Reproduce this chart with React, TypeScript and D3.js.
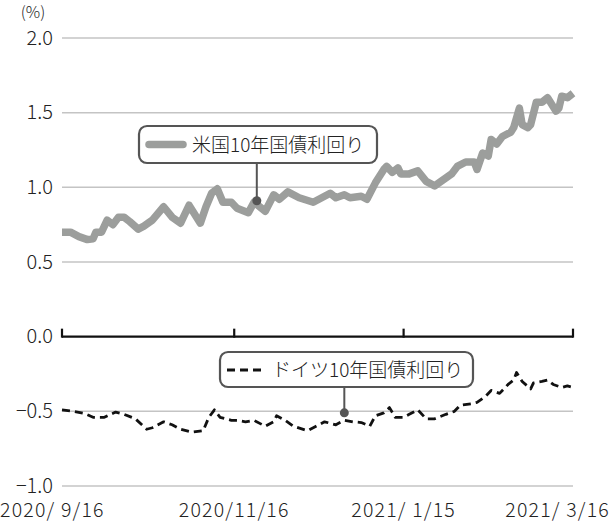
import React from 'react';
import * as d3 from 'd3';

// 米国・ドイツ 10年国債利回り (%), 2020/9/16 - 2021/3/16
const usDates = [
  '2020-09-16', '2020-09-19', '2020-09-22', '2020-09-25', '2020-09-27', '2020-09-28', '2020-09-30',
  '2020-10-02', '2020-10-04', '2020-10-06', '2020-10-08', '2020-10-10', '2020-10-13', '2020-10-15',
  '2020-10-18', '2020-10-22', '2020-10-25', '2020-10-28', '2020-10-31', '2020-11-04', '2020-11-06',
  '2020-11-08', '2020-11-10', '2020-11-12', '2020-11-15', '2020-11-17', '2020-11-21', '2020-11-23',
  '2020-11-27', '2020-11-30', '2020-12-02', '2020-12-05', '2020-12-09', '2020-12-14', '2020-12-17',
  '2020-12-20', '2020-12-22', '2020-12-25', '2020-12-27', '2020-12-31', '2021-01-02', '2021-01-05',
  '2021-01-08', '2021-01-09', '2021-01-11', '2021-01-13', '2021-01-14', '2021-01-17', '2021-01-20',
  '2021-01-23', '2021-01-26', '2021-01-29', '2021-02-01', '2021-02-03', '2021-02-06', '2021-02-09',
  '2021-02-10', '2021-02-12', '2021-02-14', '2021-02-15', '2021-02-17', '2021-02-19', '2021-02-22',
  '2021-02-23', '2021-02-25', '2021-02-26', '2021-02-28', '2021-03-01', '2021-03-03', '2021-03-05',
  '2021-03-07', '2021-03-10', '2021-03-11', '2021-03-12', '2021-03-14', '2021-03-16',
];
const usYields = [
  0.70, 0.70, 0.67, 0.65, 0.655, 0.70, 0.70,
  0.78, 0.75, 0.80, 0.80, 0.77, 0.72, 0.74,
  0.78, 0.87, 0.80, 0.76, 0.88, 0.76, 0.87,
  0.96, 0.99, 0.90, 0.90, 0.86, 0.83, 0.90,
  0.84, 0.95, 0.92, 0.97, 0.93, 0.90, 0.93,
  0.96, 0.93, 0.95, 0.93, 0.94, 0.92, 1.03,
  1.12, 1.14, 1.10, 1.13, 1.09, 1.09, 1.11,
  1.04, 1.01, 1.05, 1.09, 1.14, 1.17, 1.17,
  1.12, 1.23, 1.21, 1.32, 1.29, 1.34, 1.37,
  1.40, 1.53, 1.42, 1.40, 1.42, 1.57, 1.57,
  1.60, 1.51, 1.53, 1.61, 1.60, 1.63,
];

const deDates = [
  '2020-09-16', '2020-09-20', '2020-09-24', '2020-09-27', '2020-10-01', '2020-10-05', '2020-10-08',
  '2020-10-12', '2020-10-16', '2020-10-18', '2020-10-22', '2020-10-25', '2020-10-28', '2020-11-01',
  '2020-11-05', '2020-11-07', '2020-11-09', '2020-11-11', '2020-11-15', '2020-11-17', '2020-11-20',
  '2020-11-23', '2020-11-27', '2020-11-30', '2020-12-01', '2020-12-04', '2020-12-07', '2020-12-12',
  '2020-12-15', '2020-12-18', '2020-12-22', '2020-12-25', '2020-12-28', '2020-12-31', '2021-01-03',
  '2021-01-05', '2021-01-08', '2021-01-10', '2021-01-12', '2021-01-15', '2021-01-17', '2021-01-20',
  '2021-01-23', '2021-01-26', '2021-01-30', '2021-02-02', '2021-02-04', '2021-02-08', '2021-02-10',
  '2021-02-13', '2021-02-15', '2021-02-18', '2021-02-21', '2021-02-23', '2021-02-24', '2021-02-26',
  '2021-03-01', '2021-03-02', '2021-03-05', '2021-03-07', '2021-03-09', '2021-03-12', '2021-03-14',
  '2021-03-16',
];
const deYields = [
  -0.49, -0.50, -0.515, -0.54, -0.54, -0.505, -0.52,
  -0.55, -0.62, -0.61, -0.57, -0.59, -0.62, -0.64,
  -0.63, -0.54, -0.49, -0.54, -0.56, -0.56, -0.57,
  -0.56, -0.60, -0.57, -0.53, -0.56, -0.60, -0.63,
  -0.60, -0.57, -0.59, -0.56, -0.57, -0.575, -0.60,
  -0.53, -0.51, -0.475, -0.54, -0.54, -0.52, -0.49,
  -0.55, -0.55, -0.52, -0.50, -0.46, -0.45, -0.44,
  -0.40, -0.36, -0.38, -0.32, -0.29, -0.24, -0.30,
  -0.35, -0.31, -0.30, -0.29, -0.32, -0.34, -0.33,
  -0.34,
];

const yTicks = [2.0, 1.5, 1.0, 0.5, 0.0, -0.5, -1.0];
const xTickDates = ['2020-09-16', '2020-11-16', '2021-01-15', '2021-03-16'];
const xTickLabels = ['2020/ 9/16', '2020/11/16', '2021/ 1/15', '2021/ 3/16'];

const usLabel = '米国10年国債利回り';
const deLabel = 'ドイツ10年国債利回り';
const usMarker = { date: '2020-11-24', value: 0.91 };
const deMarker = { date: '2020-12-25', value: -0.51 };

const W = 611;
const H = 523;
const FONT = '"Noto Sans CJK JP", "Noto Sans", sans-serif';
const parse = d3.utcParse('%Y-%m-%d');

export default function App() {
  const x = d3.scaleUtc()
    .domain([parse('2020-09-16')!, parse('2021-03-16')!])
    .range([62, 573]);
  const y = d3.scaleLinear().domain([-1, 2]).range([486, 38]);

  const line = d3.line<[Date, number]>()
    .x(d => x(d[0]))
    .y(d => y(d[1]));

  const us = usDates.map((d, i) => [parse(d)!, usYields[i]] as [Date, number]);
  const de = deDates.map((d, i) => [parse(d)!, deYields[i]] as [Date, number]);

  const usMx = x(parse(usMarker.date)!);
  const usMy = y(usMarker.value);
  const deMx = x(parse(deMarker.date)!);
  const deMy = y(deMarker.value);

  // first label starts at the left edge, last one ends at the right edge
  const xLabelPos = (i: number) => {
    if (i === 0) return { x: 0, anchor: 'start' };
    if (i === xTickDates.length - 1) return { x: 610, anchor: 'end' };
    return { x: x(parse(xTickDates[i])!), anchor: 'middle' };
  };

  return (
    <svg width={W} height={H} style={{ position: 'absolute', left: 0, top: 0, background: '#fff' }}
      fontFamily={FONT} fontWeight={300}>
      {/* grid */}
      {yTicks.filter(t => t !== 0).map(t => (
        <line key={t} x1={62} x2={573} y1={y(t)} y2={y(t)} stroke="#c4c4c4" strokeWidth={1.5} />
      ))}
      {/* y labels */}
      {yTicks.map(t => (
        <text key={'l' + t} x={53} y={y(t)} dy="0.34em" textAnchor="end" fontSize={20} fill="#222">
          {(t < 0 ? '\u2212' : '') + Math.abs(t).toFixed(1)}
        </text>
      ))}
      <text x={33} y={18} textAnchor="middle" fontSize={16} fill="#222">(%)</text>

      {/* zero axis */}
      <line x1={62} x2={573} y1={y(0)} y2={y(0)} stroke="#111" strokeWidth={2.2} />
      {xTickDates.map(d => (
        <line key={d} x1={x(parse(d)!)} x2={x(parse(d)!)} y1={y(0) + 1} y2={y(0) - 8} stroke="#111" strokeWidth={2.2} />
      ))}

      {/* x labels */}
      {xTickDates.map((d, i) => {
        const p = xLabelPos(i);
        return (
          <text key={'x' + d} x={p.x} y={517} textAnchor={p.anchor} fontSize={19.5} letterSpacing={1.2}
            fill="#222" style={{ whiteSpace: 'pre' }}>
            {xTickLabels[i]}
          </text>
        );
      })}

      {/* series */}
      <path d={line(us) ?? ''} fill="none" stroke="#9c9e9c" strokeWidth={7.5} strokeLinejoin="round" />
      <path d={line(de) ?? ''} fill="none" stroke="#111" strokeWidth={2.8} strokeDasharray="8 5" strokeLinejoin="round" />

      {/* US callout */}
      <line x1={usMx} x2={usMx} y1={163} y2={usMy} stroke="#555" strokeWidth={2} />
      <circle cx={usMx} cy={usMy} r={4.5} fill="#555" />
      <rect x={139} y={126} width={238} height={37} rx={8} fill="#fff" stroke="#555" strokeWidth={2.2} />
      <line x1={149} x2={183} y1={144.5} y2={144.5} stroke="#9c9e9c" strokeWidth={7.5} strokeLinecap="round" />
      <text x={192} y={151.5} fontSize={19} fill="#222">{usLabel}</text>

      {/* Germany callout */}
      <line x1={deMx} x2={deMx} y1={387} y2={deMy} stroke="#555" strokeWidth={2} />
      <circle cx={deMx} cy={deMy} r={4.5} fill="#555" />
      <rect x={220} y={352} width={253} height={35} rx={8} fill="#fff" stroke="#555" strokeWidth={2.2} />
      <line x1={227} x2={263} y1={370} y2={370} stroke="#111" strokeWidth={2.8} strokeDasharray="8 5" />
      <text x={272} y={376.5} fontSize={19} fill="#222">{deLabel}</text>
    </svg>
  );
}
